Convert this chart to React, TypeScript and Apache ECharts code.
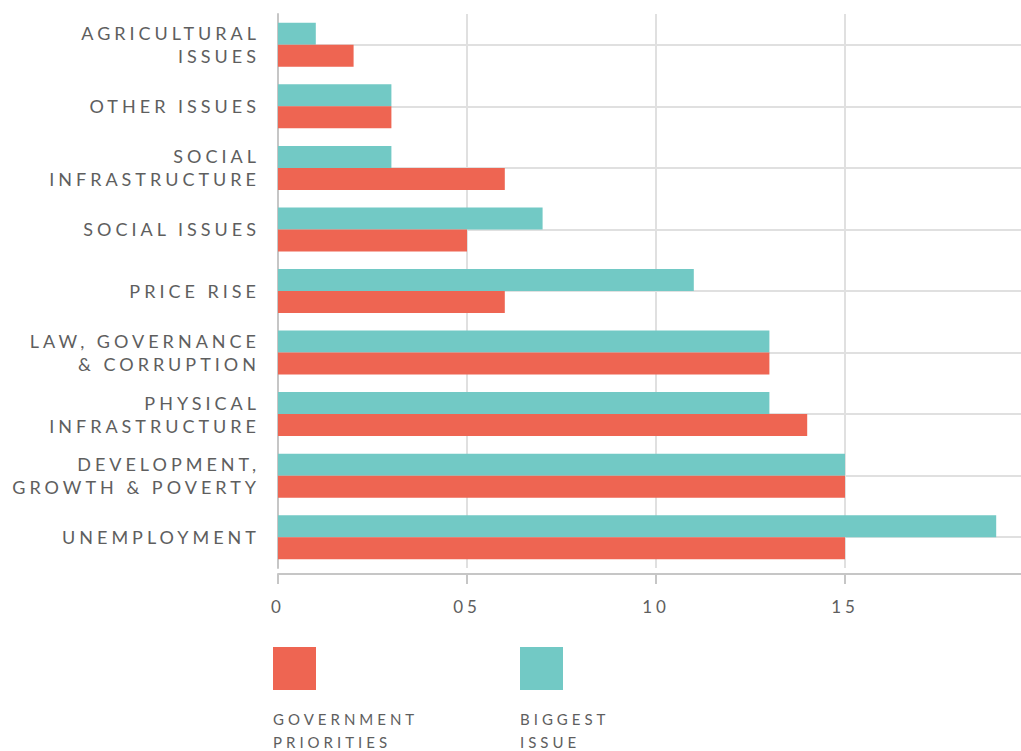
import React, { useEffect, useRef } from "react";
import * as echarts from "echarts";

const categories = [
  "AGRICULTURAL\nISSUES",
  "OTHER ISSUES",
  "SOCIAL\nINFRASTRUCTURE",
  "SOCIAL ISSUES",
  "PRICE RISE",
  "LAW, GOVERNANCE\n& CORRUPTION",
  "PHYSICAL\nINFRASTRUCTURE",
  "DEVELOPMENT,\nGROWTH & POVERTY",
  "UNEMPLOYMENT",
];
const biggestIssue = [1, 3, 3, 7, 11, 13, 13, 15, 19];
const governmentPriorities = [2, 3, 6, 5, 6, 13, 14, 15, 15];
const seriesNames = ["BIGGEST ISSUE", "GOVERNMENT PRIORITIES"];
const legendTexts = ["GOVERNMENT\nPRIORITIES", "BIGGEST\nISSUE"];

const RED = "#EE6552";
const TEAL = "#72C9C5";
const TEXT = "#5e5e5e";
const FONT = "Lato, 'Open Sans', sans-serif";

export default function App() {
  const ref = useRef<HTMLDivElement>(null);
  useEffect(() => {
    if (!ref.current) return;
    const chart = echarts.init(ref.current, undefined, { renderer: "svg" });
    chart.setOption({
      animation: false,
      backgroundColor: "#ffffff",
      grid: {
        left: 278,
        top: 14,
        width: 756,
        height: 554,
        containLabel: false,
        outerBoundsMode: "none",
      },
      xAxis: {
        type: "value",
        min: 0,
        max: 20,
        interval: 5,
        offset: 6,
        axisLine: { show: true, lineStyle: { color: "#c6c6c6", width: 2 } },
        axisTick: { show: true, length: 10, lineStyle: { color: "#c6c6c6", width: 2 } },
        splitLine: { show: true, lineStyle: { color: "#e0e0e0", width: 2 } },
        axisLabel: {
          margin: 24,
          color: TEXT,
          fontSize: 17,
          fontFamily: FONT,
          showMaxLabel: false,
          formatter: (v: number) => (v === 0 ? "0" : String(v).padStart(2, "0")),
        },
      },
      yAxis: {
        type: "category",
        data: categories,
        inverse: true,
        axisLine: { show: true, lineStyle: { color: "#c6c6c6", width: 2 } },
        axisTick: { show: false },
        splitLine: { show: true, alignWithLabel: true, lineStyle: { color: "#e0e0e0", width: 2 } },
        axisLabel: {
          margin: 18,
          color: TEXT,
          fontSize: 18,
          lineHeight: 23,
          fontFamily: FONT,
        },
      },
      series: [
        {
          name: seriesNames[0],
          type: "bar",
          data: biggestIssue,
          barWidth: 22,
          barGap: "0%",
          itemStyle: { color: TEAL },
        },
        {
          name: seriesNames[1],
          type: "bar",
          data: governmentPriorities,
          barWidth: 22,
          barGap: "0%",
          itemStyle: { color: RED },
        },
      ],
      graphic: [
        { type: "rect", shape: { x: 273, y: 647, width: 43, height: 43 }, style: { fill: RED } },
        { type: "rect", shape: { x: 520, y: 647, width: 43, height: 43 }, style: { fill: TEAL } },
        {
          type: "text",
          x: 273,
          y: 707,
          style: { text: legendTexts[0], fill: TEXT, fontSize: 15, lineHeight: 23, fontFamily: FONT },
        },
        {
          type: "text",
          x: 520,
          y: 707,
          style: { text: legendTexts[1], fill: TEXT, fontSize: 15, lineHeight: 23, fontFamily: FONT },
        },
      ],
    });
    return () => chart.dispose();
  }, []);
  return (
    <>
      <style>{`.chart-root text { letter-spacing: 4px; }`}</style>
      <div
        ref={ref}
        className="chart-root"
        style={{ position: "fixed", left: 0, top: 0, width: 1021, height: 751, background: "#fff" }}
      />
    </>
  );
}
